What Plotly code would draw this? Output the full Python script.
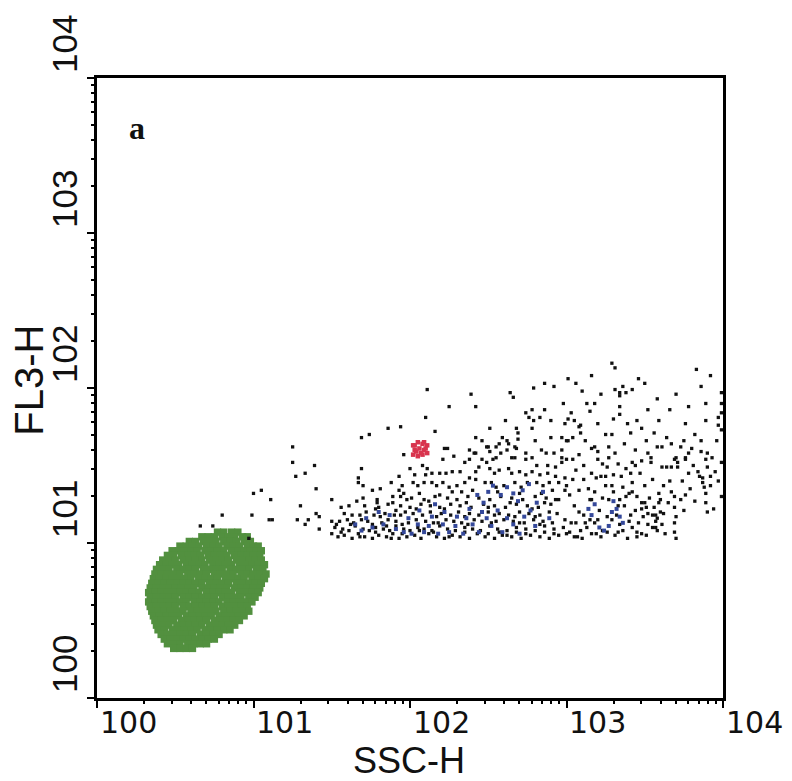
import plotly.graph_objects as go

# ---- data (values in hundredths of a decade) ----
# green population: rows of events (log10 FL3 * 100) with their log10 SSC * 100 positions
green_rows_y = [107, 104, 101, 98, 95, 92, 89, 86, 83, 80, 77, 74, 71, 68, 65, 62, 59, 56, 53, 50, 47, 44, 41, 38, 35, 32]
green_rows_x = [
    [77, 81, 86, 90],
    [67, 71, 75, 80, 84, 88, 93, 96],
    [59, 63, 68, 72, 76, 81, 85, 89, 94, 98],
    [53, 57, 61, 65, 70, 74, 78, 83, 87, 91, 96, 100, 103],
    [48, 52, 56, 60, 64, 69, 73, 77, 81, 86, 90, 94, 98, 102, 105],
    [45, 49, 54, 58, 62, 66, 71, 75, 79, 83, 88, 92, 96, 100, 104],
    [42, 46, 50, 55, 59, 63, 67, 72, 76, 80, 84, 89, 93, 97, 101, 105],
    [40, 44, 48, 52, 57, 61, 65, 69, 74, 78, 82, 86, 91, 95, 99, 103, 107],
    [38, 42, 46, 51, 55, 59, 63, 68, 72, 76, 80, 85, 89, 93, 97, 102, 106],
    [37, 41, 45, 49, 53, 58, 62, 66, 70, 75, 79, 83, 87, 92, 96, 100, 104, 108],
    [36, 40, 44, 48, 52, 56, 60, 65, 69, 73, 77, 82, 86, 90, 94, 99, 103, 107],
    [35, 39, 43, 47, 51, 55, 59, 63, 67, 72, 76, 80, 84, 89, 93, 97, 101, 105],
    [34, 38, 42, 46, 50, 54, 58, 62, 67, 71, 75, 79, 83, 88, 92, 96, 100, 104],
    [33, 37, 41, 45, 49, 53, 57, 61, 65, 70, 74, 78, 82, 86, 91, 95, 99, 103],
    [34, 38, 42, 46, 50, 55, 59, 63, 67, 71, 75, 80, 84, 88, 92, 97, 101],
    [33, 37, 41, 45, 49, 53, 57, 62, 66, 70, 74, 78, 83, 87, 91, 95, 99],
    [34, 38, 42, 46, 50, 55, 59, 63, 67, 71, 75, 80, 84, 88, 92, 96],
    [35, 39, 43, 47, 51, 55, 60, 64, 68, 72, 76, 81, 85, 89, 93, 97],
    [36, 40, 44, 48, 52, 57, 61, 65, 69, 73, 78, 82, 86, 90, 94],
    [37, 41, 45, 49, 54, 58, 62, 66, 70, 75, 79, 83, 87, 91],
    [38, 42, 46, 51, 55, 59, 63, 67, 72, 76, 80, 84, 88],
    [39, 43, 48, 52, 56, 60, 64, 69, 73, 77, 81, 85],
    [41, 45, 49, 53, 57, 61, 66, 70, 74, 78],
    [43, 47, 51, 55, 59, 63, 67, 71, 75],
    [45, 49, 53, 58, 62, 66, 70],
    [49, 53, 57, 61],
]

# black events (log10 SSC*100, log10 FL3*100)
black_pts = [
    # sparse left tail
    (66,111),(74,111),(80,118),(97,103),(99,118),(100,132),(105,134),(111,128),(110,115),(112,115),
    (125,162),(125,152),(127,143),(133,145),(139,150),(140,135),(130,124),(128,115),(135,115),(133,112),
    (140,119),(142,117),(142,109),(150,128),(150,114),(153,112),(169,168),(174,170),(186,174),(194,175),
    (169,148),(167,142),(167,139),(170,137),(176,134),(181,135),(193,143),(188,139),(195,137),(166,127),
    (170,129),(156,123),(161,124),(179,128),(179,126),(189,130),(194,130),(196,132),(189,126),
    (196,157),(203,144),(193,134),(198,128),(210,144),
    # dense lower band
    (150,106),(154,104),(158,105),(163,103),(167,106),(171,104),(176,103),(180,105),(185,104),(189,106),
    (193,103),(198,104),(203,105),(207,103),(212,106),(217,104),(222,103),(227,105),(232,104),(238,103),
    (243,106),(248,104),(254,103),(259,105),(265,104),(271,103),(277,105),(283,104),(289,103),(295,105),
    (152,110),(157,109),(161,108),(165,111),(170,109),(174,108),(178,110),(183,109),(187,108),(191,111),
    (196,109),(200,108),(205,110),(209,109),(214,108),(219,111),(224,109),(229,108),(235,110),(240,109),
    (245,108),(251,111),(256,109),(262,108),(268,110),(274,109),(280,108),(286,111),(292,109),
    (155,114),(160,115),(164,113),(169,115),(173,114),(182,113),(186,115),(191,114),(199,113),(204,115),
    (210,114),(215,113),(223,115),(228,114),(233,113),(241,115),(246,114),(252,113),(260,115),(266,114),
    (273,113),(279,115),(285,114),(291,113),
    (158,119),(163,118),(172,120),(177,118),(184,119),(190,118),(197,120),(202,119),(208,118),(213,120),
    (220,119),(226,118),(231,120),(238,119),(244,118),(250,120),(257,119),(263,118),(270,120),(276,119),
    (283,118),(289,120),(294,119),
    (171,124),(180,123),(186,125),(194,124),(200,123),(207,125),(213,124),(219,123),(226,125),(232,124),
    (239,123),(247,125),(254,124),(261,123),(268,125),(275,124),(282,123),(290,125),
    (201,129),(209,128),(216,130),(224,129),(230,128),(237,130),(244,129),(251,128),(258,130),(265,129),
    (272,128),(280,130),(287,129),(293,128),
    (156,107),(168,104),(178,107),(188,103),(195,106),(206,108),(215,107),(225,104),(235,107),(250,106),
    (257,107),(262,105),(268,107),(274,106),(286,107),(292,106),(162,112),(176,112),(185,111),(195,112),
    (218,113),(237,112),(255,114),(270,113),(283,112),(168,118),(181,117),(194,118),(217,117),(235,117),
    (254,118),(267,117),(280,117),(178,122),(191,121),(204,122),(222,122),(236,126),(250,123),(264,126),
    (278,122),(286,126),(206,132),(219,131),(227,133),(240,134),(256,133),(270,132),(284,132),(291,134),
    (212,127),(233,133),
    # middle band
    (208,150),(211,148),(200,148),(214,145),(219,145),(223,145),(227,146),(232,146),(221,154),(228,156),
    (235,152),(238,154),(222,161),(224,161),(238,160),(241,158),(242,158),(246,154),(249,152),(253,154),
    (244,149),(242,146),(251,148),(254,145),(257,147),(263,148),(265,145),(270,146),(274,144),(278,146),
    (283,144),(288,145),(293,143),(299,142),(274,154),(281,150),(288,150),(293,149),(297,152),(251,159),
    (255,155),(258,158),(262,160),(265,155),(267,155),(274,158),(278,155),(284,160),(287,158),(292,158),
    (297,160),(246,166),(249,162),(250,162),(255,162),(257,164),(262,166),(263,164),(269,167),(267,162),
    (268,161),(280,166),(290,168),(297,168),(300,166),(242,168),
    (202,139),(205,137),(209,139),(214,139),(217,137),(221,139),(225,136),(230,137),(235,139),(238,142),
    (242,141),(248,139),(252,139),(255,136),(260,137),(267,139),(271,136),(275,139),(281,139),(285,137),
    (289,139),(295,139),(300,137),
    # upper sparse region
    (211,199),(225,188),(239,196),(242,188),(210,181),(216,172),(264,197),(266,194),(279,200),(286,203),
    (292,201),(298,190),(274,184),(278,186),(276,181),(279,179),(286,186),(283,181),(290,179),(261,179),
    (299,177),(268,174),(269,171),(251,174),(259,168),(278,174),
    (329,216),(331,213),(301,206),(306,203),(316,208),(331,199),(334,197),(336,201),(338,197),(334,195),
    (342,199),(346,206),(350,203),(313,190),(318,190),(303,184),(334,188),(334,183),(301,180),(305,179),
    (308,175),(309,176),(320,177),(345,179),(359,179),(366,186),(370,196),(386,201),(389,190),(389,179),
    (376,177),(397,181),(397,176),(399,173),(399,197),(399,190),(399,184),(304,168),(301,166),(309,171),
    (325,170),(329,170),(341,171),(364,168),(386,166),(396,166),
    (382,170),(375,166),(356,171),(348,174),(339,177),(330,180),(315,185),(322,196),(310,198),(352,186),
    (358,193),(378,188),(392,208),(383,212),
    # right part
    (361,162),(367,164),(373,162),(380,161),(378,158),(376,155),(376,154),(370,155),(369,154),(371,152),
    (386,159),(390,158),(389,154),(390,149),(399,152),(316,161),(320,154),(327,155),(348,153),(352,158),
    (354,155),(354,152),(342,152),(361,149),(364,149),(367,149),(371,149),(378,145),(385,143),(387,142),
    (387,139),(388,136),(392,143),(392,137),(376,131),(389,132),(389,126),(394,122),(399,130),(390,120),
    (359,132),(360,128),(359,126),(367,133),(369,130),(369,123),(370,117),(369,113),(369,107),(370,103),
    (318,162),(320,159),(297,155),(300,154),(304,154),(316,145),(319,142),(322,143),(325,143),(330,144),
    (335,143),(341,145),(342,139),(325,137),(329,137),(336,136),(340,132),(342,133),(345,130),(348,126),
    (350,126),(348,122),(351,123),(352,119),(355,118),(357,118),(358,116),(360,120),(362,119),(357,114),
    (352,112),(355,110),(357,110),(358,108),(342,110),(345,107),(348,106),(339,103),(345,104),(351,105),
    (300,106),(302,107),(305,104),(307,104),(313,110),(316,106),(319,106),(323,108),(326,107),
    (302,131),(305,124),(308,134),(311,118),(315,128),(321,121),(327,128),(332,118),(337,124),(341,118),
    (334,112),(329,115),(315,115),(299,115),(308,120),(295,128),(299,134),
    (298,110),(303,113),(310,103),(312,113),(318,113),(322,104),(326,117),(331,105),(333,124),(336,108),
    (338,130),(340,114),(344,121),(346,113),(349,117),(353,129),(356,123),(361,112),(363,106),(365,126),
    (373,128),(375,121),(379,135),(382,127),(384,146),(395,146),(397,140),(393,155),(381,150),(374,140),
    (366,140),(362,137),(355,141),(350,137),(347,145),(344,150),(338,148),(333,151),(331,158),(326,149),
    (323,151),(311,150),(308,157),(306,147),(304,141),(311,141),(314,135),(318,133),(323,129),(330,133),
    (334,128),(306,113),(316,128),(320,115),(333,107),(309,108),(358,162),(351,166),(344,160),(337,164),
    (327,162),(312,166),
]

# blue events
blue_pts = [
    (196,107),(201,106),(205,112),(209,107),(212,111),(218,106),(221,112),(225,107),(229,111),(234,106),
    (236,116),(240,112),(244,107),(249,116),(252,111),(256,121),(259,107),(262,116),(266,112),(270,106),
    (273,117),(277,121),(280,111),(247,126),(250,133),(253,137),(243,131),(258,131),(262,136),(266,132),
    (269,127),(272,134),(276,138),(281,126),(285,133),(289,116),(238,122),(230,117),(222,120),(214,117),
    (206,121),(199,116),(216,125),(246,120),
    (314,122),(316,118),(318,125),(321,110),(324,108),(327,111),(330,127),(332,122),(334,117),(336,113),
    (329,120),(165,112),(169,108),(172,116),(176,110),(180,120),(183,112),(187,118),(191,109),
]

# red events
red_pts = [
    (202,163),(205,165),(208,164),(211,163),(203,160),(206,161),(209,160),(202,157),(205,156),(208,157),
    (211,158),(204,159),(207,158),(210,161),(203,163),(209,165),
]

major_vals = [1, 10, 100, 1000, 10000]
x_tick_text = ["100", "101", "102", "103", "104"]
y_tick_text = ["100", "101", "102", "103", "104"]
x_title = "SSC-H"
y_title = "FL3-H"
panel_label = "a"


def to_lin(v):
    return 10 ** (v / 100.0)


gx, gy = [], []
for yy, row in zip(green_rows_y, green_rows_x):
    for xx in row:
        gx.append(to_lin(xx))
        gy.append(to_lin(yy))

fig = go.Figure()
fig.add_trace(go.Scatter(x=gx, y=gy, mode="markers",
                         marker=dict(symbol="square", size=7.4, color="#52903f"),
                         hoverinfo="skip", showlegend=False))
fig.add_trace(go.Scatter(x=[to_lin(p[0]) for p in black_pts], y=[to_lin(p[1]) for p in black_pts],
                         mode="markers", marker=dict(symbol="square", size=3.3, color="#111111"),
                         hoverinfo="skip", showlegend=False))
fig.add_trace(go.Scatter(x=[to_lin(p[0]) for p in blue_pts], y=[to_lin(p[1]) for p in blue_pts],
                         mode="markers", marker=dict(symbol="square", size=4, color="#34489a"),
                         hoverinfo="skip", showlegend=False))
fig.add_trace(go.Scatter(x=[to_lin(p[0]) for p in red_pts], y=[to_lin(p[1]) for p in red_pts],
                         mode="markers", marker=dict(symbol="square", size=4.5, color="#d8344e"),
                         hoverinfo="skip", showlegend=False))

minor_vals = [m * 10 ** k for k in range(4) for m in range(2, 10)]

axis_common = dict(type="log", range=[0, 4], showgrid=False, zeroline=False,
                   showline=True, linecolor="black", linewidth=2.5, mirror=True,
                   tickmode="array", tickvals=major_vals, ticks="outside", ticklen=7,
                   tickwidth=2, tickcolor="black", showticklabels=False,
                   minor=dict(tickmode="array", tickvals=minor_vals, ticks="outside",
                              ticklen=3, tickwidth=1.5, tickcolor="black", showgrid=False))

fig.update_layout(
    width=792, height=781,
    margin=dict(l=97, r=69, t=78, b=83),
    paper_bgcolor="white", plot_bgcolor="white",
    xaxis=axis_common, yaxis=axis_common,
)

annotations = []
for i, t in enumerate(x_tick_text):
    annotations.append(dict(text=t, xref="paper", yref="paper", x=(i + 0.2) / 4, y=-0.039,
                            showarrow=False, xanchor="center", yanchor="middle",
                            font=dict(family="DejaVu Sans", size=30, color="#111")))
for i, t in enumerate(y_tick_text):
    annotations.append(dict(text=t, xref="paper", yref="paper", x=-0.051, y=(i + 0.22) / 4,
                            showarrow=False, xanchor="center", yanchor="middle", textangle=-90,
                            font=dict(family="Liberation Sans", size=35, color="#111")))
annotations.append(dict(text=x_title, xref="paper", yref="paper", x=0.498, y=-0.1,
                        showarrow=False, xanchor="center", yanchor="middle",
                        font=dict(family="Liberation Sans", size=36, color="#111")))
annotations.append(dict(text=y_title, xref="paper", yref="paper", x=-0.109, y=0.513,
                        showarrow=False, xanchor="center", yanchor="middle", textangle=-90,
                        font=dict(family="Liberation Sans", size=40, color="#111")))
annotations.append(dict(text="<b>" + panel_label + "</b>", xref="paper", yref="paper", x=0.064, y=0.919,
                        showarrow=False, xanchor="center", yanchor="middle",
                        font=dict(family="Liberation Serif", size=32, color="#111")))
fig.update_layout(annotations=annotations)

fig.write_html("out.html")
